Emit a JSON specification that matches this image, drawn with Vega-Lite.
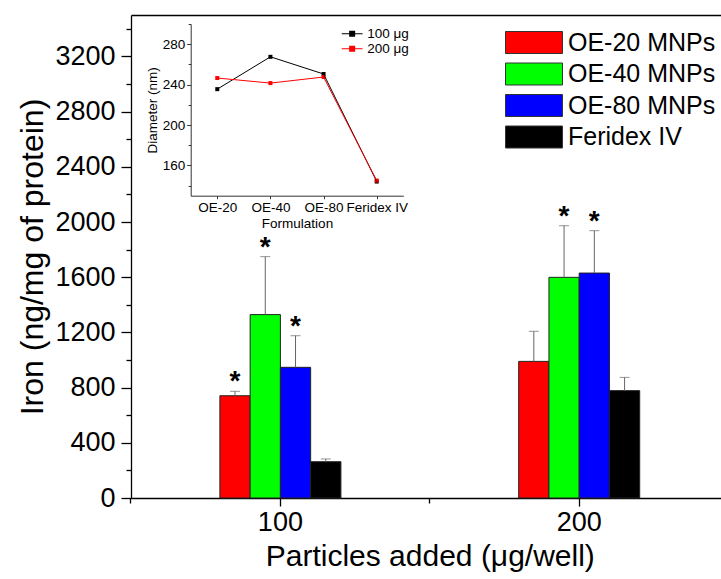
{
  "$schema": "https://vega.github.io/schema/vega-lite/v6.json",
  "width": 590,
  "height": 483,
  "autosize": {"type": "none"},
  "padding": {"left": 131, "top": 15, "right": 0, "bottom": 81},
  "background": "white",
  "config": {
    "view": {"stroke": null},
    "font": "Liberation Sans",
    "axis": {
      "grid": false,
      "domainColor": "#000",
      "tickColor": "#000",
      "labelColor": "#000",
      "titleColor": "#000",
      "labelFont": "Liberation Sans",
      "titleFont": "Liberation Sans",
      "titleFontWeight": "normal"
    },
    "legend": {"labelFont": "Liberation Sans", "labelColor": "#000", "padding": 0}
  },
  "layer": [
    {
      "data": {
        "values": [
          {"dose": "100", "formulation": "OE-20 MNPs", "value": 741, "hi": 773, "sig": "*"},
          {"dose": "100", "formulation": "OE-40 MNPs", "value": 1329, "hi": 1749, "sig": "*"},
          {"dose": "100", "formulation": "OE-80 MNPs", "value": 947, "hi": 1176, "sig": "*"},
          {"dose": "100", "formulation": "Feridex IV", "value": 263, "hi": 283, "sig": ""},
          {"dose": "200", "formulation": "OE-20 MNPs", "value": 990, "hi": 1208, "sig": ""},
          {"dose": "200", "formulation": "OE-40 MNPs", "value": 1599, "hi": 1973, "sig": "*"},
          {"dose": "200", "formulation": "OE-80 MNPs", "value": 1630, "hi": 1937, "sig": "*"},
          {"dose": "200", "formulation": "Feridex IV", "value": 778, "hi": 874, "sig": ""}
        ]
      },
      "layer": [
        {
          "mark": {"type": "bar", "stroke": "#222", "strokeWidth": 1},
          "encoding": {
            "x": {
              "field": "dose", "type": "nominal",
              "scale": {"type": "band", "range": [0, 597.6], "paddingInner": 0.595, "paddingOuter": 0.2975, "align": 0.5},
              "axis": {
                "orient": "bottom", "title": "Particles added (μg/well)", "labelAngle": 0,
                "labelFontSize": 27, "titleFontSize": 30, "tickSize": 8, "labelPadding": 3,
                "titlePadding": 6, "domainWidth": 1.3, "tickWidth": 1.3
              }
            },
            "xOffset": {
              "field": "formulation", "type": "nominal",
              "scale": {"domain": ["OE-20 MNPs", "OE-40 MNPs", "OE-80 MNPs", "Feridex IV"], "paddingOuter": 0, "paddingInner": 0}
            },
            "y": {
              "field": "value", "type": "quantitative",
              "scale": {"domain": [0, 3500], "nice": false},
              "axis": {
                "orient": "left",
                "values": [0, 200, 400, 600, 800, 1000, 1200, 1400, 1600, 1800, 2000, 2200, 2400, 2600, 2800, 3000, 3200, 3400],
                "format": "d",
                "labelExpr": "datum.value % 400 === 0 ? datum.label : ''",
                "tickSize": {"condition": {"test": "datum.value % 400 === 0", "value": 10}, "value": 5},
                "labelFontSize": 27, "labelPadding": 6,
                "title": "Iron (ng/mg of protein)", "titleFontSize": 32, "titlePadding": 5,
                "domainWidth": 1.3, "tickWidth": 1.3
              }
            },
            "color": {
              "field": "formulation", "type": "nominal",
              "scale": {"domain": ["OE-20 MNPs", "OE-40 MNPs", "OE-80 MNPs", "Feridex IV"], "range": ["#FF0000", "#00FF00", "#0000FF", "#000000"]},
              "legend": {
                "orient": "none", "legendX": 390.5, "legendY": 15, "title": null,
                "symbolType": "M-2.59,-1H2.59V1H-2.59Z", "symbolSize": 484,
                "symbolStrokeColor": "#333", "symbolStrokeWidth": 1, "symbolOpacity": 1,
                "labelFontSize": 25, "labelOffset": 21.5, "rowPadding": 4.5, "labelLimit": 300
              }
            }
          }
        },
        {
          "mark": {"type": "rule", "color": "#666", "strokeWidth": 1},
          "encoding": {
            "x": {
              "field": "dose", "type": "nominal",
              "scale": {"type": "band", "range": [0, 597.6], "paddingInner": 0.595, "paddingOuter": 0.2975, "align": 0.5},
              "axis": {"orient": "bottom", "bandPosition": -0.7347, "labels": false, "domain": false, "title": null, "tickSize": 5, "tickWidth": 1.3}
            },
            "xOffset": {
              "field": "formulation", "type": "nominal",
              "scale": {"domain": ["OE-20 MNPs", "OE-40 MNPs", "OE-80 MNPs", "Feridex IV"], "paddingOuter": 0, "paddingInner": 0}
            },
            "y": {
              "field": "value", "type": "quantitative",
              "scale": {"domain": [0, 3500], "nice": false},
              "axis": {
                "orient": "left",
                "values": [0, 200, 400, 600, 800, 1000, 1200, 1400, 1600, 1800, 2000, 2200, 2400, 2600, 2800, 3000, 3200, 3400],
                "format": "d",
                "labelExpr": "datum.value % 400 === 0 ? datum.label : ''",
                "tickSize": {"condition": {"test": "datum.value % 400 === 0", "value": 10}, "value": 5},
                "labelFontSize": 27, "labelPadding": 6,
                "title": "Iron (ng/mg of protein)", "titleFontSize": 32, "titlePadding": 5,
                "domainWidth": 1.3, "tickWidth": 1.3
              }
            },
            "y2": {"field": "hi"}
          }
        },
        {
          "mark": {"type": "tick", "orient": "horizontal", "color": "#666", "size": 10, "thickness": 1},
          "encoding": {
            "x": {
              "field": "dose", "type": "nominal",
              "scale": {"type": "band", "range": [0, 597.6], "paddingInner": 0.595, "paddingOuter": 0.2975, "align": 0.5},
              "axis": null
            },
            "xOffset": {
              "field": "formulation", "type": "nominal",
              "scale": {"domain": ["OE-20 MNPs", "OE-40 MNPs", "OE-80 MNPs", "Feridex IV"], "paddingOuter": 0, "paddingInner": 0}
            },
            "y": {
              "field": "hi", "type": "quantitative",
              "scale": {"domain": [0, 3500], "nice": false},
              "axis": {
                "orient": "left",
                "values": [0, 200, 400, 600, 800, 1000, 1200, 1400, 1600, 1800, 2000, 2200, 2400, 2600, 2800, 3000, 3200, 3400],
                "format": "d",
                "labelExpr": "datum.value % 400 === 0 ? datum.label : ''",
                "tickSize": {"condition": {"test": "datum.value % 400 === 0", "value": 10}, "value": 5},
                "labelFontSize": 27, "labelPadding": 6,
                "title": "Iron (ng/mg of protein)", "titleFontSize": 32, "titlePadding": 5,
                "domainWidth": 1.3, "tickWidth": 1.3
              }
            }
          }
        },
        {
          "mark": {"type": "text", "fontSize": 28, "fontWeight": "bold", "baseline": "alphabetic", "dy": -1, "color": "#000"},
          "encoding": {
            "x": {
              "field": "dose", "type": "nominal",
              "scale": {"type": "band", "range": [0, 597.6], "paddingInner": 0.595, "paddingOuter": 0.2975, "align": 0.5},
              "axis": {"orient": "top", "ticks": false, "labels": false, "title": null, "domain": true, "domainWidth": 1.3}
            },
            "xOffset": {
              "field": "formulation", "type": "nominal",
              "scale": {"domain": ["OE-20 MNPs", "OE-40 MNPs", "OE-80 MNPs", "Feridex IV"], "paddingOuter": 0, "paddingInner": 0}
            },
            "y": {
              "field": "hi", "type": "quantitative",
              "scale": {"domain": [0, 3500], "nice": false},
              "axis": {
                "orient": "left",
                "values": [0, 200, 400, 600, 800, 1000, 1200, 1400, 1600, 1800, 2000, 2200, 2400, 2600, 2800, 3000, 3200, 3400],
                "format": "d",
                "labelExpr": "datum.value % 400 === 0 ? datum.label : ''",
                "tickSize": {"condition": {"test": "datum.value % 400 === 0", "value": 10}, "value": 5},
                "labelFontSize": 27, "labelPadding": 6,
                "title": "Iron (ng/mg of protein)", "titleFontSize": 32, "titlePadding": 5,
                "domainWidth": 1.3, "tickWidth": 1.3
              }
            },
            "text": {"field": "sig"}
          }
        }
      ],
      "resolve": {"axis": {"x": "independent", "y": "shared"}}
    },
    {
      "data": {
        "values": [
          {"series": "100 μg", "formulation": "OE-20", "diameter": 235.5},
          {"series": "100 μg", "formulation": "OE-40", "diameter": 267.5},
          {"series": "100 μg", "formulation": "OE-80", "diameter": 250.5},
          {"series": "100 μg", "formulation": "Feridex IV", "diameter": 144},
          {"series": "200 μg", "formulation": "OE-20", "diameter": 246.5},
          {"series": "200 μg", "formulation": "OE-40", "diameter": 241.5},
          {"series": "200 μg", "formulation": "OE-80", "diameter": 247.5},
          {"series": "200 μg", "formulation": "Feridex IV", "diameter": 145}
        ]
      },
      "encoding": {
        "x": {
          "field": "formulation", "type": "nominal",
          "scale": {"type": "point", "domain": ["OE-20", "OE-40", "OE-80", "Feridex IV"], "range": [59.7, 272.3], "padding": 0.5},
          "axis": {
            "orient": "bottom", "offset": -302.3, "title": "Formulation", "labelAngle": 0,
            "labelFontSize": 13.5, "titleFontSize": 13.5, "tickSize": 3, "labelPadding": 2, "titlePadding": 2,
            "domainColor": "#333", "tickColor": "#333"
          }
        },
        "y": {
          "field": "diameter", "type": "quantitative",
          "scale": {"domain": [130, 300], "range": [180.7, 9], "nice": false, "zero": false},
          "axis": {
            "orient": "left", "offset": -59.7,
            "values": [140, 160, 180, 200, 220, 240, 260, 280, 300],
            "labelExpr": "datum.value % 40 === 0 ? datum.label : ''",
            "tickSize": {"condition": {"test": "datum.value % 40 === 0", "value": 4}, "value": 2.5},
            "labelFontSize": 13.5, "labelPadding": 2, "title": "Diameter (nm)", "titleFontSize": 13.5, "titlePadding": 3,
            "domainColor": "#333", "tickColor": "#333"
          }
        },
        "color": {
          "field": "series", "type": "nominal",
          "scale": {"domain": ["100 μg", "200 μg"], "range": ["#000000", "#FF0000"]},
          "legend": {
            "orient": "none", "legendX": 214.4, "legendY": 12, "title": null,
            "symbolType": "M-2.6,-0.15H2.6V0.15H-2.6Z M-0.75,-0.75H0.75V0.75H-0.75Z", "symbolSize": 64,
            "symbolStrokeWidth": 0, "symbolOpacity": 1,
            "labelFontSize": 13.5, "labelOffset": 8.4, "rowPadding": 0
          }
        }
      },
      "layer": [
        {"mark": {"type": "point", "shape": "square", "filled": true, "size": 16, "opacity": 1}},
        {"mark": {"type": "line", "strokeWidth": 1}}
      ]
    }
  ],
  "resolve": {"scale": {"x": "independent", "y": "independent", "color": "independent"}}
}
